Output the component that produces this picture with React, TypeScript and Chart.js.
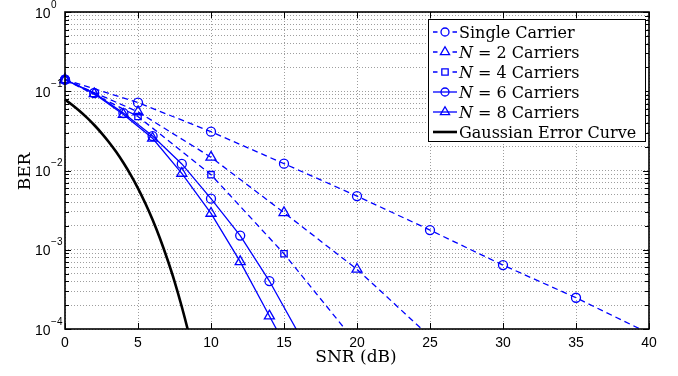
import React, { useEffect, useRef } from 'react';
import { Chart, registerables } from 'chart.js';

Chart.register(...registerables);

// ---- Data ----
const snrSingle = [0, 5, 10, 15, 20, 25, 30, 35, 40];
const berSingle = [0.14, 0.0718, 0.0309, 0.0122, 0.00476, 0.00177, 0.00064, 0.000248, 0.000088];

const snrN2 = [0, 5, 10, 15, 20, 25];
const berN2 = [0.14, 0.055, 0.0147, 0.00294, 0.000567, 0.00008];

const snrN4 = [0, 5, 10, 15, 20];
const berN4 = [0.14, 0.048, 0.00885, 0.00089, 0.000065];

const snrN6 = [0, 2, 4, 6, 8, 10, 12, 14, 16];
const berN6 = [0.14, 0.095, 0.053, 0.0272, 0.0121, 0.00441, 0.00151, 0.000403, 0.000088];

const snrN8 = [0, 2, 4, 6, 8, 10, 12, 14, 16];
const berN8 = [0.14, 0.093, 0.051, 0.0255, 0.0092, 0.00288, 0.000707, 0.000146, 0.00003];

const snrGauss = [0, 0.5, 1, 1.5, 2, 2.5, 3, 3.5, 4, 4.5, 5, 5.5, 6, 6.5, 7, 7.5, 8, 8.5, 9];
const berGauss = [0.0786, 0.0671, 0.0563, 0.0464, 0.0375, 0.0297, 0.0229, 0.0172, 0.0125, 0.0088, 0.00595, 0.00386, 0.00239, 0.0014, 0.00077, 0.0004, 0.000191, 0.000084, 0.0000336];

const xTicks = [0, 5, 10, 15, 20, 25, 30, 35, 40];
const yDecades = [-4, -3, -2, -1, 0];
const yMantissas = [1, 2, 3, 4, 5, 6, 7, 8, 9];

const legendLabels = [
  'Single Carrier',
  'N = 2 Carriers',
  'N = 4 Carriers',
  'N = 6 Carriers',
  'N = 8 Carriers',
  'Gaussian Error Curve',
];

const BLUE = '#0000ff';

type Marker = 'circle' | 'triangle' | 'rect' | 'none';
const seriesStyle: { dashed: boolean; marker: Marker; color: string; width: number }[] = [
  { dashed: true, marker: 'circle', color: BLUE, width: 1.3 },
  { dashed: true, marker: 'triangle', color: BLUE, width: 1.3 },
  { dashed: true, marker: 'rect', color: BLUE, width: 1.3 },
  { dashed: false, marker: 'circle', color: BLUE, width: 1.3 },
  { dashed: false, marker: 'triangle', color: BLUE, width: 1.3 },
  { dashed: false, marker: 'none', color: '#000000', width: 2.6 },
];

const markerRadius: Record<Marker, number> = { circle: 4.5, triangle: 5.8, rect: 4.5, none: 0 };

const yGridValues: number[] = [];
yDecades.forEach((d) => {
  yMantissas.forEach((m) => {
    const v = m * Math.pow(10, d);
    if (v <= 1.0000001) yGridValues.push(v);
  });
});

function drawMarker(ctx: CanvasRenderingContext2D, m: Marker, x: number, y: number, color: string) {
  const r = markerRadius[m];
  ctx.save();
  ctx.strokeStyle = color;
  ctx.lineWidth = 1.3;
  ctx.setLineDash([]);
  ctx.beginPath();
  if (m === 'circle') {
    ctx.arc(x, y, r - 0.5, 0, Math.PI * 2);
  } else if (m === 'triangle') {
    for (let i = 0; i < 3; i++) {
      const a = (i * 2 * Math.PI) / 3;
      const px = x + Math.sin(a) * (r - 0.5);
      const py = y - Math.cos(a) * (r - 0.5);
      if (i === 0) ctx.moveTo(px, py);
      else ctx.lineTo(px, py);
    }
    ctx.closePath();
  } else if (m === 'rect') {
    const s = Math.SQRT1_2 * r;
    ctx.rect(x - s, y - s, 2 * s, 2 * s);
  }
  ctx.stroke();
  ctx.restore();
}

const axesPlugin = {
  id: 'matlabAxes',
  afterDraw(chart: any) {
    const { ctx, chartArea } = chart;
    const { left, right, top, bottom } = chartArea;
    const xs = chart.scales.x;
    const ys = chart.scales.y;
    ctx.save();

    // tick marks (inward)
    ctx.strokeStyle = '#000';
    ctx.lineWidth = 1;
    ctx.setLineDash([]);
    ctx.beginPath();
    xTicks.forEach((t) => {
      const px = Math.round(xs.getPixelForValue(t)) + 0.5;
      ctx.moveTo(px, bottom);
      ctx.lineTo(px, bottom - 6);
      ctx.moveTo(px, top);
      ctx.lineTo(px, top + 6);
    });
    yGridValues.forEach((v) => {
      const py = Math.round(ys.getPixelForValue(v)) + 0.5;
      const major = Math.abs(Math.log10(v) - Math.round(Math.log10(v))) < 1e-6;
      const len = major ? 6 : 4;
      ctx.moveTo(left, py);
      ctx.lineTo(left + len, py);
      ctx.moveTo(right, py);
      ctx.lineTo(right - len, py);
    });
    ctx.stroke();

    // frame
    ctx.lineWidth = 1.6;
    ctx.strokeRect(left, top, right - left, bottom - top);

    // x tick labels
    ctx.fillStyle = '#000';
    ctx.font = '14px "Liberation Sans", Arial, sans-serif';
    ctx.textAlign = 'center';
    ctx.textBaseline = 'alphabetic';
    xTicks.forEach((t) => {
      ctx.fillText(String(t), xs.getPixelForValue(t), bottom + 18);
    });

    // y tick labels 10^k
    yDecades.forEach((d) => {
      const py = ys.getPixelForValue(Math.pow(10, d));
      ctx.font = '14px "Liberation Sans", Arial, sans-serif';
      ctx.textAlign = 'left';
      const base = '10';
      const bx = 35;
      ctx.fillText(base, bx, py + 5.5);
      const w = ctx.measureText(base).width;
      ctx.font = '10px "Liberation Sans", Arial, sans-serif';
      const exp = d < 0 ? '\u2212' + String(-d) : String(d);
      ctx.fillText(exp, bx + w + 0.5, py - 4.5);
    });

    // axis titles
    ctx.font = '17px "DejaVu Serif", serif';
    ctx.textAlign = 'center';
    ctx.fillText('SNR (dB)', (left + right) / 2 - 1, 362);
    ctx.save();
    ctx.translate(30, (top + bottom) / 2 + 1);
    ctx.rotate(-Math.PI / 2);
    ctx.fillText('BER', 0, 0);
    ctx.restore();

    // legend
    const lx0 = 428, ly0 = 19, lx1 = 646, ly1 = 142;
    ctx.fillStyle = '#fff';
    ctx.fillRect(lx0, ly0, lx1 - lx0, ly1 - ly0);
    ctx.strokeStyle = '#000';
    ctx.lineWidth = 1;
    ctx.strokeRect(lx0 + 0.5, ly0 + 0.5, lx1 - lx0 - 1, ly1 - ly0 - 1);
    legendLabels.forEach((label, i) => {
      const st = seriesStyle[i];
      const cy = 32 + i * 20;
      ctx.strokeStyle = st.color;
      ctx.lineWidth = st.width;
      ctx.setLineDash([]);
      ctx.beginPath();
      if (st.dashed) {
        ctx.moveTo(433, cy);
        ctx.lineTo(437.5, cy);
        ctx.moveTo(452.5, cy);
        ctx.lineTo(457, cy);
      } else {
        ctx.moveTo(433, cy);
        ctx.lineTo(457, cy);
      }
      ctx.stroke();
      if (st.marker !== 'none') drawMarker(ctx, st.marker, 445, cy, st.color);

      ctx.fillStyle = '#000';
      ctx.textAlign = 'left';
      const tx = 459;
      const ty = cy + 5.5;
      if (label.startsWith('N ')) {
        ctx.font = 'italic 16px "DejaVu Serif", serif';
        ctx.fillText('N', tx, ty);
        const nw = ctx.measureText('N').width;
        ctx.font = '16px "DejaVu Serif", serif';
        ctx.fillText(label.slice(1), tx + nw, ty);
      } else {
        ctx.font = '16px "DejaVu Serif", serif';
        ctx.fillText(label, tx, ty);
      }
    });

    ctx.restore();
  },
};

function makeData(xs: number[], ys: number[]) {
  return xs.map((x, i) => ({ x, y: ys[i] }));
}

export default function App() {
  const ref = useRef<HTMLCanvasElement | null>(null);

  useEffect(() => {
    if (!ref.current) return;
    const seriesX = [snrSingle, snrN2, snrN4, snrN6, snrN8, snrGauss];
    const seriesY = [berSingle, berN2, berN4, berN6, berN8, berGauss];
    const datasets = seriesX.map((xs, i) => {
      const st = seriesStyle[i];
      const r = markerRadius[st.marker];
      return {
        label: legendLabels[i],
        data: makeData(xs, seriesY[i]),
        borderColor: st.color,
        borderWidth: st.width,
        borderDash: st.dashed ? [6, 4] : [],
        backgroundColor: 'rgba(0,0,0,0)',
        pointStyle: st.marker === 'none' ? 'circle' : st.marker,
        pointRadius: (c: any) => (st.marker === 'none' || !c.raw || c.raw.y < 1e-4 ? 0 : r),
        pointBorderColor: st.color,
        pointBackgroundColor: 'rgba(0,0,0,0)',
        pointBorderWidth: 1.3,
        pointHoverRadius: 0,
        fill: false,
        showLine: true,
        tension: 0,
        cubicInterpolationMode: st.marker === 'none' ? 'monotone' : 'default',
        clip: { left: 10, top: 0, right: 0, bottom: 0 },
      };
    });

    const chart = new Chart(ref.current, {
      type: 'line',
      data: { datasets: datasets as any },
      options: {
        animation: false,
        responsive: false,
        devicePixelRatio: 1,
        events: [],
        layout: { padding: { left: 65, top: 12, right: 29, bottom: 47 } },
        plugins: { legend: { display: false }, tooltip: { enabled: false }, title: { display: false } },
        scales: {
          x: {
            type: 'linear',
            min: 0,
            max: 40,
            ticks: { display: false, stepSize: 5 },
            afterBuildTicks: (axis: any) => {
              axis.ticks = xTicks.map((v) => ({ value: v }));
            },
            grid: { color: 'rgba(0,0,0,0.38)', lineWidth: 1, drawTicks: false },
            border: { display: false, dash: [1, 2] },
          },
          y: {
            type: 'logarithmic',
            min: 1e-4,
            max: 1,
            ticks: { display: false },
            afterBuildTicks: (axis: any) => {
              axis.ticks = yGridValues.map((v) => ({ value: v }));
            },
            grid: { color: 'rgba(0,0,0,0.38)', lineWidth: 1, drawTicks: false },
            border: { display: false, dash: [1, 2] },
          },
        },
      },
      plugins: [axesPlugin],
    });
    return () => chart.destroy();
  }, []);

  return (
    <div style={{ position: 'fixed', left: 0, top: 0, width: 678, height: 376, background: '#fff' }}>
      <canvas ref={ref} width={678} height={376} style={{ display: 'block' }} />
    </div>
  );
}
